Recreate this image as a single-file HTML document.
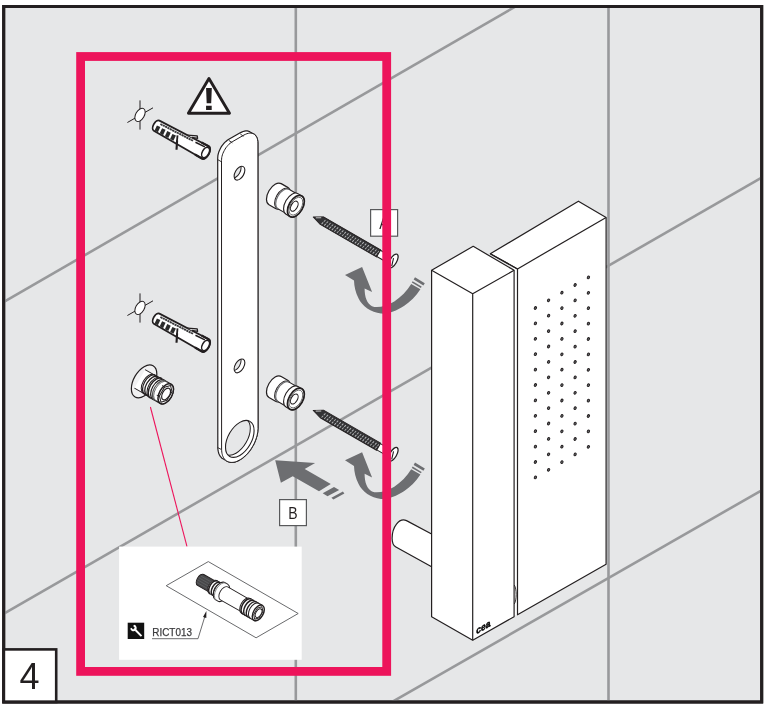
<!DOCTYPE html>
<html lang="en"><head><meta charset="utf-8"><title>Step 4</title>
<style>
html,body{margin:0;padding:0;background:#fff;}
body{width:771px;height:707px;overflow:hidden;font-family:"Liberation Sans",sans-serif;}
svg{display:block;}
svg{will-change:transform;}
</style></head><body>
<svg width="771" height="707" viewBox="0 0 771 707">
<rect x="0" y="0" width="771" height="707" fill="#fff"/>
<rect x="3.7" y="6.5" width="758" height="695.5" fill="#e6e7e8" stroke="#231f20" stroke-width="3"/>
<clipPath id="fr"><rect x="5.2" y="8" width="755" height="692.5"/></clipPath>
<g clip-path="url(#fr)" stroke="#98999b" stroke-width="2.6" fill="none">
<line x1="-10" y1="309.9" x2="800" y2="-157.8"/>
<line x1="-10" y1="621.6" x2="800" y2="155.5"/>
<line x1="-10" y1="932.1" x2="800" y2="468.4"/>
<line x1="295.8" y1="0" x2="295.8" y2="707"/>
<line x1="608.5" y1="0" x2="608.5" y2="707"/>
</g>
<path d="M217.7,158.2 L217.8,156.9 L217.9,155.5 L218.2,154.1 L218.6,152.6 L219.1,151.2 L219.8,149.7 L220.5,148.3 L221.2,146.9 L222.1,145.6 L223.1,144.4 L224.1,143.2 L225.1,142.1 L226.2,141.2 L227.3,140.3 L228.4,139.6 L240.2,132.8 L241.7,132.1 L243.1,131.5 L244.5,131.1 L245.8,130.9 L247.1,130.9 L248.4,131.2 L249.5,131.6 L250.5,132.2 L254.3,134.3 L255.2,135.1 L256.0,136.1 L256.7,137.2 L257.2,138.4 L257.6,139.8 L257.8,141.4 L257.9,143.0 L258.0,428.4 L257.9,429.8 L257.8,431.3 L257.6,432.8 L257.3,434.3 L257.0,435.9 L256.5,437.4 L256.0,439.0 L255.4,440.6 L254.8,442.1 L254.1,443.7 L253.3,445.2 L252.4,446.7 L251.5,448.2 L250.6,449.6 L249.6,450.9 L248.5,452.3 L247.5,453.5 L246.3,454.7 L245.2,455.9 L244.0,456.9 L242.8,457.9 L241.6,458.7 L240.4,459.5 L239.2,460.2 L238.0,460.9 L236.8,461.4 L235.6,461.8 L234.4,462.1 L233.3,462.3 L232.1,462.4 L231.1,462.4 L230.0,462.2 L229.0,462.0 L228.1,461.7 L227.2,461.3 L223.4,459.1 L222.5,458.6 L221.7,458.0 L221.0,457.2 L220.3,456.4 L219.8,455.5 L219.3,454.6 L218.8,453.5 L218.5,452.4 L218.2,451.2 L218.0,449.9 L217.8,448.6 L217.8,447.2Z" fill="#fff" stroke="#231f20" stroke-width="1.2" stroke-linejoin="round"/>
<path d="M221.6,449.4 L221.7,450.8 L221.8,452.1 L222.0,453.4 L222.3,454.6 L222.6,455.7 L223.1,456.8 L223.6,457.7 L224.2,458.6 L224.8,459.4 L225.5,460.2 L226.3,460.8 L227.2,461.3 L228.1,461.7 L229.0,462.0 L230.0,462.3 L231.1,462.4 L232.1,462.4 L233.3,462.3 L234.4,462.1 L235.6,461.8 L236.8,461.4 L238.0,460.8 L239.2,460.2 L240.4,459.5 L241.6,458.7 L242.8,457.9 L244.0,456.9 L245.2,455.8 L246.3,454.7 L247.5,453.5 L248.5,452.3 L249.6,451.0 L250.6,449.6 L251.5,448.2 L252.4,446.7 L253.3,445.2 L254.1,443.7 L254.8,442.1 L255.4,440.6 L256.0,439.0 L256.5,437.4 L257.0,435.9 L257.3,434.3 L257.6,432.8 L257.8,431.3 L257.9,429.8 L258.0,428.4 L257.9,143.0 L257.8,141.4 L257.6,139.8 L257.2,138.4 L256.7,137.2 L256.0,136.1 L255.2,135.1 L254.3,134.3 L253.3,133.8 L252.2,133.4 L250.9,133.1 L249.7,133.1 L248.3,133.3 L246.9,133.7 L245.5,134.3 L244.0,135.0 L232.2,141.8 L231.1,142.5 L230.0,143.4 L228.9,144.3 L227.9,145.4 L226.9,146.6 L225.9,147.8 L225.1,149.1 L224.3,150.5 L223.6,151.9 L222.9,153.4 L222.4,154.8 L222.0,156.3 L221.7,157.7 L221.6,159.1 L221.5,160.4Z" fill="#fff" stroke="#231f20" stroke-width="1" stroke-linejoin="round"/>
<path d="M217.7,159.6 L221.5,161.8 M228.8,140.4 L232.4,142.8 M240.2,133.8 L243.4,136.4" fill="none" stroke="#231f20" stroke-width="0.9"/>
<path d="M217.7,447.6 L221.6,449.6" fill="none" stroke="#231f20" stroke-width="0.9"/>
<clipPath id="h1"><ellipse cx="239.5" cy="173.2" rx="4.38" ry="7.59" transform="rotate(30 239.5 173.2)"/></clipPath>
<ellipse cx="239.5" cy="173.2" rx="4.38" ry="7.59" transform="rotate(30 239.5 173.2)" fill="#fff" stroke="none"/>
<g clip-path="url(#h1)"><ellipse cx="235.7" cy="171.0" rx="4.38" ry="7.59" transform="rotate(30 235.7 171.0)" fill="#e6e7e8" stroke="#231f20" stroke-width="1"/></g>
<ellipse cx="239.5" cy="173.2" rx="4.38" ry="7.59" transform="rotate(30 239.5 173.2)" fill="none" stroke="#231f20" stroke-width="1.1"/>
<clipPath id="h2"><ellipse cx="239.5" cy="365.9" rx="4.38" ry="7.59" transform="rotate(30 239.5 365.9)"/></clipPath>
<ellipse cx="239.5" cy="365.9" rx="4.38" ry="7.59" transform="rotate(30 239.5 365.9)" fill="#fff" stroke="none"/>
<g clip-path="url(#h2)"><ellipse cx="235.7" cy="363.7" rx="4.38" ry="7.59" transform="rotate(30 235.7 363.7)" fill="#e6e7e8" stroke="#231f20" stroke-width="1"/></g>
<ellipse cx="239.5" cy="365.9" rx="4.38" ry="7.59" transform="rotate(30 239.5 365.9)" fill="none" stroke="#231f20" stroke-width="1.1"/>
<clipPath id="h3"><ellipse cx="239.8" cy="438.9" rx="11.67" ry="20.21" transform="rotate(30 239.8 438.9)"/></clipPath>
<ellipse cx="239.8" cy="438.9" rx="11.67" ry="20.21" transform="rotate(30 239.8 438.9)" fill="#fff" stroke="none"/>
<g clip-path="url(#h3)"><ellipse cx="236.0" cy="436.7" rx="11.67" ry="20.21" transform="rotate(30 236.0 436.7)" fill="#e6e7e8" stroke="#231f20" stroke-width="1"/></g>
<ellipse cx="239.8" cy="438.9" rx="11.67" ry="20.21" transform="rotate(30 239.8 438.9)" fill="none" stroke="#231f20" stroke-width="1.1"/>
<g stroke="#231f20" stroke-width="1" fill="none"><line x1="140" y1="100.4" x2="140" y2="129.6"/><line x1="127.4" y1="122.5" x2="153" y2="107.80000000000001"/><ellipse cx="140" cy="114.9" rx="4.3" ry="7.2" fill="#fff" transform="rotate(30 140 114.9)"/></g>
<g transform="translate(155.3,125.0) rotate(28.7)" stroke="#231f20" stroke-linejoin="round">
<path d="M1.5,-5.8 L57,-7 A3.7,7 0 0 1 57,7 L1.5,5.8 A3.2,5.8 0 0 1 1.5,-5.8Z" fill="#fff" stroke-width="1.8"/>
<path d="M49,-6.8 L57,-7 A3.7,7 0 0 1 57,7 L49,6.8" fill="none" stroke-width="2.2"/>
<ellipse cx="57.3" cy="0" rx="3.2" ry="5.6" fill="#fff" stroke-width="1.5"/>
<path d="M4,-3.3 L41,-4.3" fill="none" stroke="#3a3a3c" stroke-width="1.9" stroke-dasharray="2.2 0.45"/>
<path d="M43.5,-4.2 L54,-4.6" fill="none" stroke-width="1.6"/>
<path d="M1.6,-0.4 L5.4,-0.7 L5.8,5.2 L2.0,5.2Z" fill="#2b2b2b" stroke="none"/>
<path d="M7.5,-0.4 L11.3,-0.7 L11.7,5.2 L7.9,5.2Z" fill="#2b2b2b" stroke="none"/>
<path d="M13.4,-0.4 L17.2,-0.7 L17.6,5.2 L13.8,5.2Z" fill="#2b2b2b" stroke="none"/>
<path d="M19.3,-0.4 L23.1,-0.7 L23.5,5.2 L19.7,5.2Z" fill="#2b2b2b" stroke="none"/>
<path d="M24.5,-1.5 L27.5,5.5" fill="none" stroke-width="1.8"/>
<path d="M33,-6.6 L42,-10.6 L43.5,-8.6 L38,-6.6" fill="#e6e7e8" stroke-width="1.3"/>
<path d="M26.5,3 L30.5,11.5" fill="none" stroke-width="2.1"/>
</g>
<g stroke="#231f20" stroke-width="1" fill="none"><line x1="140" y1="293.4" x2="140" y2="322.59999999999997"/><line x1="127.4" y1="315.5" x2="153" y2="300.79999999999995"/><ellipse cx="140" cy="307.9" rx="4.3" ry="7.2" fill="#fff" transform="rotate(30 140 307.9)"/></g>
<g transform="translate(155.3,318.0) rotate(28.7)" stroke="#231f20" stroke-linejoin="round">
<path d="M1.5,-5.8 L57,-7 A3.7,7 0 0 1 57,7 L1.5,5.8 A3.2,5.8 0 0 1 1.5,-5.8Z" fill="#fff" stroke-width="1.8"/>
<path d="M49,-6.8 L57,-7 A3.7,7 0 0 1 57,7 L49,6.8" fill="none" stroke-width="2.2"/>
<ellipse cx="57.3" cy="0" rx="3.2" ry="5.6" fill="#fff" stroke-width="1.5"/>
<path d="M4,-3.3 L41,-4.3" fill="none" stroke="#3a3a3c" stroke-width="1.9" stroke-dasharray="2.2 0.45"/>
<path d="M43.5,-4.2 L54,-4.6" fill="none" stroke-width="1.6"/>
<path d="M1.6,-0.4 L5.4,-0.7 L5.8,5.2 L2.0,5.2Z" fill="#2b2b2b" stroke="none"/>
<path d="M7.5,-0.4 L11.3,-0.7 L11.7,5.2 L7.9,5.2Z" fill="#2b2b2b" stroke="none"/>
<path d="M13.4,-0.4 L17.2,-0.7 L17.6,5.2 L13.8,5.2Z" fill="#2b2b2b" stroke="none"/>
<path d="M19.3,-0.4 L23.1,-0.7 L23.5,5.2 L19.7,5.2Z" fill="#2b2b2b" stroke="none"/>
<path d="M24.5,-1.5 L27.5,5.5" fill="none" stroke-width="1.8"/>
<path d="M33,-6.6 L42,-10.6 L43.5,-8.6 L38,-6.6" fill="#e6e7e8" stroke-width="1.3"/>
<path d="M26.5,3 L30.5,11.5" fill="none" stroke-width="2.1"/>
</g>
<path d="M208.95,78.5 L229.5,113.3 L188.4,113.3Z" fill="#fff" stroke="#231f20" stroke-width="2.9" stroke-linejoin="round"/>
<text x="0" y="0" transform="translate(208.95,110.3) scale(1.3,1)" font-family="'Liberation Sans',sans-serif" font-weight="bold" font-size="31" text-anchor="middle" fill="#231f20">!</text>
<g transform="translate(275.1,194.2) rotate(30)" stroke="#231f20" stroke-width="1.1" fill="#fff" stroke-linejoin="round">
<path d="M0,-12.2 L7.5,-12.2 A7.04,12.2 0 0 1 7.5,12.2 L0,12.2 A7.04,12.2 0 0 1 0,-12.2Z" fill="#fff" stroke-width="1.2"/>
<path d="M8.6,-11.2 L19,-11.2 A6.46,11.2 0 0 1 19,11.2 L8.6,11.2 A6.46,11.2 0 0 1 8.6,-11.2Z" fill="#fff" stroke-width="1.0"/>
<path d="M9.8,-11.2 A6.46,11.2 0 0 0 9.8,11.2" fill="none" stroke="#6d6e71" stroke-width="1.2"/>
<path d="M19.5,-11.9 L24,-11.9 A6.87,11.9 0 0 1 24,11.9 L19.5,11.9 A6.87,11.9 0 0 1 19.5,-11.9Z" fill="#fff" stroke-width="1.1"/>
<ellipse cx="24" cy="0" rx="6.9" ry="11.9" stroke-width="1.7"/>
<ellipse cx="24" cy="0" rx="5.6" ry="9.8" stroke-width="0.8" stroke="#555"/>
<ellipse cx="22.6" cy="0.8" rx="3.1" ry="5.5" stroke-width="1.1"/>
</g>
<g transform="translate(275.1,387.0) rotate(30)" stroke="#231f20" stroke-width="1.1" fill="#fff" stroke-linejoin="round">
<path d="M0,-12.2 L7.5,-12.2 A7.04,12.2 0 0 1 7.5,12.2 L0,12.2 A7.04,12.2 0 0 1 0,-12.2Z" fill="#fff" stroke-width="1.2"/>
<path d="M8.6,-11.2 L19,-11.2 A6.46,11.2 0 0 1 19,11.2 L8.6,11.2 A6.46,11.2 0 0 1 8.6,-11.2Z" fill="#fff" stroke-width="1.0"/>
<path d="M9.8,-11.2 A6.46,11.2 0 0 0 9.8,11.2" fill="none" stroke="#6d6e71" stroke-width="1.2"/>
<path d="M19.5,-11.9 L24,-11.9 A6.87,11.9 0 0 1 24,11.9 L19.5,11.9 A6.87,11.9 0 0 1 19.5,-11.9Z" fill="#fff" stroke-width="1.1"/>
<ellipse cx="24" cy="0" rx="6.9" ry="11.9" stroke-width="1.7"/>
<ellipse cx="24" cy="0" rx="5.6" ry="9.8" stroke-width="0.8" stroke="#555"/>
<ellipse cx="22.6" cy="0.8" rx="3.1" ry="5.5" stroke-width="1.1"/>
</g>
<g transform="translate(322.3,220.9) rotate(30)" stroke-linejoin="round">
<path d="M-9.8,1.2 L-1,-4.1 L65,-4.1 L65,4.1 L0,4.1Z" fill="#333335" stroke="#231f20" stroke-width="0.9"/>
<path d="M1.0,3.2 L2.5,-3.2 M4.0,3.2 L5.5,-3.2 M6.9,3.2 L8.4,-3.2 M9.9,3.2 L11.4,-3.2 M12.8,3.2 L14.3,-3.2 M15.8,3.2 L17.2,-3.2 M18.7,3.2 L20.2,-3.2 M21.7,3.2 L23.2,-3.2 M24.6,3.2 L26.1,-3.2 M27.6,3.2 L29.1,-3.2 M30.5,3.2 L32.0,-3.2 M33.5,3.2 L35.0,-3.2 M36.4,3.2 L37.9,-3.2 M39.4,3.2 L40.9,-3.2 M42.3,3.2 L43.8,-3.2 M45.2,3.2 L46.8,-3.2 M48.2,3.2 L49.7,-3.2 M51.2,3.2 L52.7,-3.2 M54.1,3.2 L55.6,-3.2 M57.1,3.2 L58.6,-3.2 M60.0,3.2 L61.5,-3.2 M63.0,3.2 L64.5,-3.2" stroke="#b5b6b8" stroke-width="0.95" fill="none" stroke-dasharray="2.4 0.9"/>
<path d="M-7.2,0.6 L-2.5,-2.2" stroke="#ddd" stroke-width="0.8" fill="none"/>
<path d="M65,-3.6 L75,-3.6 L75,3.6 L65,3.6Z" fill="#fff" stroke="#231f20" stroke-width="1"/>
<ellipse cx="81.5" cy="-0.7" rx="3.4" ry="7.8" fill="#fff" stroke="#231f20" stroke-width="1.3"/>
<path d="M80.3,-3.4 L82.7,4.4" stroke="#231f20" stroke-width="1.1" fill="none"/>
</g>
<g transform="translate(322.3,414.20000000000005) rotate(30)" stroke-linejoin="round">
<path d="M-9.8,1.2 L-1,-4.1 L65,-4.1 L65,4.1 L0,4.1Z" fill="#333335" stroke="#231f20" stroke-width="0.9"/>
<path d="M1.0,3.2 L2.5,-3.2 M4.0,3.2 L5.5,-3.2 M6.9,3.2 L8.4,-3.2 M9.9,3.2 L11.4,-3.2 M12.8,3.2 L14.3,-3.2 M15.8,3.2 L17.2,-3.2 M18.7,3.2 L20.2,-3.2 M21.7,3.2 L23.2,-3.2 M24.6,3.2 L26.1,-3.2 M27.6,3.2 L29.1,-3.2 M30.5,3.2 L32.0,-3.2 M33.5,3.2 L35.0,-3.2 M36.4,3.2 L37.9,-3.2 M39.4,3.2 L40.9,-3.2 M42.3,3.2 L43.8,-3.2 M45.2,3.2 L46.8,-3.2 M48.2,3.2 L49.7,-3.2 M51.2,3.2 L52.7,-3.2 M54.1,3.2 L55.6,-3.2 M57.1,3.2 L58.6,-3.2 M60.0,3.2 L61.5,-3.2 M63.0,3.2 L64.5,-3.2" stroke="#b5b6b8" stroke-width="0.95" fill="none" stroke-dasharray="2.4 0.9"/>
<path d="M-7.2,0.6 L-2.5,-2.2" stroke="#ddd" stroke-width="0.8" fill="none"/>
<path d="M65,-3.6 L75,-3.6 L75,3.6 L65,3.6Z" fill="#fff" stroke="#231f20" stroke-width="1"/>
<ellipse cx="81.5" cy="-0.7" rx="3.4" ry="7.8" fill="#fff" stroke="#231f20" stroke-width="1.3"/>
<path d="M80.3,-3.4 L82.7,4.4" stroke="#231f20" stroke-width="1.1" fill="none"/>
</g>
<rect x="370.6" y="209.6" width="27" height="26.6" fill="#fff" stroke="#58595b" stroke-width="1.2"/>
<text x="384" y="229.5" font-family="'Liberation Sans',sans-serif" font-size="16.3" text-anchor="middle" fill="#231f20" transform="translate(384,0) scale(0.86,1) translate(-384,0)">A</text>
<rect x="279.6" y="499.6" width="26.8" height="26" fill="#fff" stroke="#58595b" stroke-width="1.2"/>
<text x="293" y="519.2" font-family="'Liberation Sans',sans-serif" font-size="16.3" text-anchor="middle" fill="#231f20" transform="translate(293,0) scale(0.86,1) translate(-293,0)">B</text>
<g transform="translate(0,0)" fill="#6d6e71">
<path d="M345,275 L362.1,266.9 L372.1,292.1 L364.6,288.4 C364.6,297 367,303.5 372,306.2 C378,308.6 387,305.5 394.3,301.4 C401,297 407,291 411.2,284 L420.4,289.3 C416,296.5 410,302 404.3,305.7 C396,311 388,314.2 381,313.6 C371,312.6 362,306 358.6,298.6 C355.5,292.5 354.2,286.5 354,280.6Z"/>
<path d="M411.8,282.6 L412.6,281.3 L421.6,286.6 L420.9,287.9Z"/>
<path d="M413.6,279.6 L415,277.3 L424.8,283.2 L423.4,285.5Z"/>
</g>
<g transform="translate(0,185.3)" fill="#6d6e71">
<path d="M345,275 L362.1,266.9 L372.1,292.1 L364.6,288.4 C364.6,297 367,303.5 372,306.2 C378,308.6 387,305.5 394.3,301.4 C401,297 407,291 411.2,284 L420.4,289.3 C416,296.5 410,302 404.3,305.7 C396,311 388,314.2 381,313.6 C371,312.6 362,306 358.6,298.6 C355.5,292.5 354.2,286.5 354,280.6Z"/>
<path d="M411.8,282.6 L412.6,281.3 L421.6,286.6 L420.9,287.9Z"/>
<path d="M413.6,279.6 L415,277.3 L424.8,283.2 L423.4,285.5Z"/>
</g>
<g fill="#6d6e71">
<path d="M275.2,460.2 L315.1,463 L304.7,469.1 L330.8,484.1 L319,491.2 L292.7,476.3 L280.9,482.8Z"/>
<path d="M322.7,493.2 L334,486.9 L339.2,489.9 L327.5,496.2Z"/>
<path d="M331.4,497.7 L342.9,491.5 L344.4,493.4 L333.4,499.4Z"/>
</g>
<g stroke="#231f20" stroke-width="1.2" fill="#fff" stroke-linejoin="round">
<path d="M431.6,534 L406.5,520.6 C399,517.5 392.1,527 392.1,538.2 C392.1,543 394,546 395.9,547.1 L431.6,566.8Z"/>
<path d="M513,268 L518.5,268 L518.5,614 L513,616Z" stroke="none"/>
<path d="M490.3,253.8 L578.4,201.2 L606.1,217.4 L606.1,564.3 L517.5,614.8 L517.5,268.9Z"/>
<path d="M606.1,217.4 L517.5,268.9" fill="none"/>
<path d="M517.5,268.9 L490.3,253.8" fill="none"/>
<path d="M431.6,270.3 L473.2,246.3 L514.1,270.3 L514.1,616.7 L472.7,640.2 L431.6,616.7Z"/>
<path d="M431.6,270.3 L472.7,293.8 L514.1,270.3 M472.7,293.8 L472.7,640.2" fill="none"/>
<path d="M514.3,585 C516.8,589 516.8,600 514.3,604" fill="none" stroke-width="0.9"/>
</g>
<ellipse cx="588.4" cy="277.4" rx="1.05" ry="1.4" fill="#6d6e71" stroke="#231f20" stroke-width="1" transform="rotate(30 588.4 277.4)"/>
<ellipse cx="588.4" cy="292.8" rx="1.05" ry="1.4" fill="#6d6e71" stroke="#231f20" stroke-width="1" transform="rotate(30 588.4 292.8)"/>
<ellipse cx="588.4" cy="308.2" rx="1.05" ry="1.4" fill="#6d6e71" stroke="#231f20" stroke-width="1" transform="rotate(30 588.4 308.2)"/>
<ellipse cx="588.4" cy="323.6" rx="1.05" ry="1.4" fill="#6d6e71" stroke="#231f20" stroke-width="1" transform="rotate(30 588.4 323.6)"/>
<ellipse cx="588.4" cy="339.0" rx="1.05" ry="1.4" fill="#6d6e71" stroke="#231f20" stroke-width="1" transform="rotate(30 588.4 339.0)"/>
<ellipse cx="588.4" cy="354.4" rx="1.05" ry="1.4" fill="#6d6e71" stroke="#231f20" stroke-width="1" transform="rotate(30 588.4 354.4)"/>
<ellipse cx="588.4" cy="369.8" rx="1.05" ry="1.4" fill="#6d6e71" stroke="#231f20" stroke-width="1" transform="rotate(30 588.4 369.8)"/>
<ellipse cx="588.4" cy="385.2" rx="1.05" ry="1.4" fill="#6d6e71" stroke="#231f20" stroke-width="1" transform="rotate(30 588.4 385.2)"/>
<ellipse cx="588.4" cy="400.6" rx="1.05" ry="1.4" fill="#6d6e71" stroke="#231f20" stroke-width="1" transform="rotate(30 588.4 400.6)"/>
<ellipse cx="588.4" cy="416.0" rx="1.05" ry="1.4" fill="#6d6e71" stroke="#231f20" stroke-width="1" transform="rotate(30 588.4 416.0)"/>
<ellipse cx="588.4" cy="431.4" rx="1.05" ry="1.4" fill="#6d6e71" stroke="#231f20" stroke-width="1" transform="rotate(30 588.4 431.4)"/>
<ellipse cx="588.4" cy="446.8" rx="1.05" ry="1.4" fill="#6d6e71" stroke="#231f20" stroke-width="1" transform="rotate(30 588.4 446.8)"/>
<ellipse cx="575.1" cy="285.0" rx="1.05" ry="1.4" fill="#6d6e71" stroke="#231f20" stroke-width="1" transform="rotate(30 575.1 285.0)"/>
<ellipse cx="575.1" cy="300.4" rx="1.05" ry="1.4" fill="#6d6e71" stroke="#231f20" stroke-width="1" transform="rotate(30 575.1 300.4)"/>
<ellipse cx="575.1" cy="315.8" rx="1.05" ry="1.4" fill="#6d6e71" stroke="#231f20" stroke-width="1" transform="rotate(30 575.1 315.8)"/>
<ellipse cx="575.1" cy="331.2" rx="1.05" ry="1.4" fill="#6d6e71" stroke="#231f20" stroke-width="1" transform="rotate(30 575.1 331.2)"/>
<ellipse cx="575.1" cy="346.6" rx="1.05" ry="1.4" fill="#6d6e71" stroke="#231f20" stroke-width="1" transform="rotate(30 575.1 346.6)"/>
<ellipse cx="575.1" cy="362.0" rx="1.05" ry="1.4" fill="#6d6e71" stroke="#231f20" stroke-width="1" transform="rotate(30 575.1 362.0)"/>
<ellipse cx="575.1" cy="377.4" rx="1.05" ry="1.4" fill="#6d6e71" stroke="#231f20" stroke-width="1" transform="rotate(30 575.1 377.4)"/>
<ellipse cx="575.1" cy="392.8" rx="1.05" ry="1.4" fill="#6d6e71" stroke="#231f20" stroke-width="1" transform="rotate(30 575.1 392.8)"/>
<ellipse cx="575.1" cy="408.2" rx="1.05" ry="1.4" fill="#6d6e71" stroke="#231f20" stroke-width="1" transform="rotate(30 575.1 408.2)"/>
<ellipse cx="575.1" cy="423.6" rx="1.05" ry="1.4" fill="#6d6e71" stroke="#231f20" stroke-width="1" transform="rotate(30 575.1 423.6)"/>
<ellipse cx="575.1" cy="439.0" rx="1.05" ry="1.4" fill="#6d6e71" stroke="#231f20" stroke-width="1" transform="rotate(30 575.1 439.0)"/>
<ellipse cx="575.1" cy="454.4" rx="1.05" ry="1.4" fill="#6d6e71" stroke="#231f20" stroke-width="1" transform="rotate(30 575.1 454.4)"/>
<ellipse cx="561.9" cy="292.7" rx="1.05" ry="1.4" fill="#6d6e71" stroke="#231f20" stroke-width="1" transform="rotate(30 561.9 292.7)"/>
<ellipse cx="561.9" cy="308.1" rx="1.05" ry="1.4" fill="#6d6e71" stroke="#231f20" stroke-width="1" transform="rotate(30 561.9 308.1)"/>
<ellipse cx="561.9" cy="323.5" rx="1.05" ry="1.4" fill="#6d6e71" stroke="#231f20" stroke-width="1" transform="rotate(30 561.9 323.5)"/>
<ellipse cx="561.9" cy="338.9" rx="1.05" ry="1.4" fill="#6d6e71" stroke="#231f20" stroke-width="1" transform="rotate(30 561.9 338.9)"/>
<ellipse cx="561.9" cy="354.3" rx="1.05" ry="1.4" fill="#6d6e71" stroke="#231f20" stroke-width="1" transform="rotate(30 561.9 354.3)"/>
<ellipse cx="561.9" cy="369.7" rx="1.05" ry="1.4" fill="#6d6e71" stroke="#231f20" stroke-width="1" transform="rotate(30 561.9 369.7)"/>
<ellipse cx="561.9" cy="385.1" rx="1.05" ry="1.4" fill="#6d6e71" stroke="#231f20" stroke-width="1" transform="rotate(30 561.9 385.1)"/>
<ellipse cx="561.9" cy="400.5" rx="1.05" ry="1.4" fill="#6d6e71" stroke="#231f20" stroke-width="1" transform="rotate(30 561.9 400.5)"/>
<ellipse cx="561.9" cy="415.9" rx="1.05" ry="1.4" fill="#6d6e71" stroke="#231f20" stroke-width="1" transform="rotate(30 561.9 415.9)"/>
<ellipse cx="561.9" cy="431.3" rx="1.05" ry="1.4" fill="#6d6e71" stroke="#231f20" stroke-width="1" transform="rotate(30 561.9 431.3)"/>
<ellipse cx="561.9" cy="446.7" rx="1.05" ry="1.4" fill="#6d6e71" stroke="#231f20" stroke-width="1" transform="rotate(30 561.9 446.7)"/>
<ellipse cx="561.9" cy="462.1" rx="1.05" ry="1.4" fill="#6d6e71" stroke="#231f20" stroke-width="1" transform="rotate(30 561.9 462.1)"/>
<ellipse cx="548.6" cy="300.3" rx="1.05" ry="1.4" fill="#6d6e71" stroke="#231f20" stroke-width="1" transform="rotate(30 548.6 300.3)"/>
<ellipse cx="548.6" cy="315.7" rx="1.05" ry="1.4" fill="#6d6e71" stroke="#231f20" stroke-width="1" transform="rotate(30 548.6 315.7)"/>
<ellipse cx="548.6" cy="331.1" rx="1.05" ry="1.4" fill="#6d6e71" stroke="#231f20" stroke-width="1" transform="rotate(30 548.6 331.1)"/>
<ellipse cx="548.6" cy="346.5" rx="1.05" ry="1.4" fill="#6d6e71" stroke="#231f20" stroke-width="1" transform="rotate(30 548.6 346.5)"/>
<ellipse cx="548.6" cy="361.9" rx="1.05" ry="1.4" fill="#6d6e71" stroke="#231f20" stroke-width="1" transform="rotate(30 548.6 361.9)"/>
<ellipse cx="548.6" cy="377.3" rx="1.05" ry="1.4" fill="#6d6e71" stroke="#231f20" stroke-width="1" transform="rotate(30 548.6 377.3)"/>
<ellipse cx="548.6" cy="392.8" rx="1.05" ry="1.4" fill="#6d6e71" stroke="#231f20" stroke-width="1" transform="rotate(30 548.6 392.8)"/>
<ellipse cx="548.6" cy="408.1" rx="1.05" ry="1.4" fill="#6d6e71" stroke="#231f20" stroke-width="1" transform="rotate(30 548.6 408.1)"/>
<ellipse cx="548.6" cy="423.5" rx="1.05" ry="1.4" fill="#6d6e71" stroke="#231f20" stroke-width="1" transform="rotate(30 548.6 423.5)"/>
<ellipse cx="548.6" cy="438.9" rx="1.05" ry="1.4" fill="#6d6e71" stroke="#231f20" stroke-width="1" transform="rotate(30 548.6 438.9)"/>
<ellipse cx="548.6" cy="454.3" rx="1.05" ry="1.4" fill="#6d6e71" stroke="#231f20" stroke-width="1" transform="rotate(30 548.6 454.3)"/>
<ellipse cx="548.6" cy="469.8" rx="1.05" ry="1.4" fill="#6d6e71" stroke="#231f20" stroke-width="1" transform="rotate(30 548.6 469.8)"/>
<ellipse cx="535.4" cy="308.0" rx="1.05" ry="1.4" fill="#6d6e71" stroke="#231f20" stroke-width="1" transform="rotate(30 535.4 308.0)"/>
<ellipse cx="535.4" cy="323.4" rx="1.05" ry="1.4" fill="#6d6e71" stroke="#231f20" stroke-width="1" transform="rotate(30 535.4 323.4)"/>
<ellipse cx="535.4" cy="338.8" rx="1.05" ry="1.4" fill="#6d6e71" stroke="#231f20" stroke-width="1" transform="rotate(30 535.4 338.8)"/>
<ellipse cx="535.4" cy="354.2" rx="1.05" ry="1.4" fill="#6d6e71" stroke="#231f20" stroke-width="1" transform="rotate(30 535.4 354.2)"/>
<ellipse cx="535.4" cy="369.6" rx="1.05" ry="1.4" fill="#6d6e71" stroke="#231f20" stroke-width="1" transform="rotate(30 535.4 369.6)"/>
<ellipse cx="535.4" cy="385.0" rx="1.05" ry="1.4" fill="#6d6e71" stroke="#231f20" stroke-width="1" transform="rotate(30 535.4 385.0)"/>
<ellipse cx="535.4" cy="400.4" rx="1.05" ry="1.4" fill="#6d6e71" stroke="#231f20" stroke-width="1" transform="rotate(30 535.4 400.4)"/>
<ellipse cx="535.4" cy="415.8" rx="1.05" ry="1.4" fill="#6d6e71" stroke="#231f20" stroke-width="1" transform="rotate(30 535.4 415.8)"/>
<ellipse cx="535.4" cy="431.2" rx="1.05" ry="1.4" fill="#6d6e71" stroke="#231f20" stroke-width="1" transform="rotate(30 535.4 431.2)"/>
<ellipse cx="535.4" cy="446.6" rx="1.05" ry="1.4" fill="#6d6e71" stroke="#231f20" stroke-width="1" transform="rotate(30 535.4 446.6)"/>
<ellipse cx="535.4" cy="462.0" rx="1.05" ry="1.4" fill="#6d6e71" stroke="#231f20" stroke-width="1" transform="rotate(30 535.4 462.0)"/>
<ellipse cx="535.4" cy="477.4" rx="1.05" ry="1.4" fill="#6d6e71" stroke="#231f20" stroke-width="1" transform="rotate(30 535.4 477.4)"/>
<text transform="matrix(0.866,-0.5,0,1,476.3,634.2)" x="0" y="0" font-family="'Liberation Sans',sans-serif" font-weight="bold" font-size="9.6" fill="#000" stroke="#000" stroke-width="0.5" textLength="16.2" lengthAdjust="spacingAndGlyphs">cea</text>
<g transform="translate(144.1,381.35) rotate(30)" stroke="#231f20" stroke-width="1.1" fill="#fff" stroke-linejoin="round">
<ellipse cx="0" cy="0" rx="10.4" ry="18" fill="#f1f1f2" stroke-width="1.2"/>
<path d="M-5,-10.6 L9,-10.6 L9,10.6 L-5,10.6" fill="#fff" stroke-width="0.9"/>
<path d="M5.5,-10.8 L12,-10.8 A6.23,10.8 0 0 1 12,10.8 L5.5,10.8 A6.23,10.8 0 0 1 5.5,-10.8Z" fill="#fff" stroke-width="1.0"/>
<path d="M7,-10.8 A6.23,10.8 0 0 0 7,10.8" fill="none" stroke="#231f20" stroke-width="1.3"/>
<path d="M9.6,-10.8 A6.23,10.8 0 0 0 9.6,10.8" fill="none" stroke="#231f20" stroke-width="1.3"/>
<path d="M12.5,-11.3 L16,-11.3 A6.52,11.3 0 0 1 16,11.3 L12.5,11.3 A6.52,11.3 0 0 1 12.5,-11.3Z" fill="#fff" stroke-width="1.0"/>
<path d="M14,-11.3 A6.52,11.3 0 0 0 14,11.3" fill="none" stroke="#231f20" stroke-width="1.4"/>
<path d="M16.5,-11 L25,-11 A6.35,11 0 0 1 25,11 L16.5,11 A6.35,11 0 0 1 16.5,-11Z" fill="#fff" stroke-width="1.2"/>
<path d="M18.5,-11 A6.35,11 0 0 0 18.5,11" fill="none" stroke="#555" stroke-width="1.2"/>
<path d="M20,-11 A6.35,11 0 0 0 20,11" fill="none" stroke="#555" stroke-width="0.8"/>
<ellipse cx="25" cy="0" rx="6.35" ry="11" stroke-width="1.5"/>
<path d="M25,-9.6 L29.3,-5 L29.3,5 L25,9.6 L20.6,5 L20.6,-5Z" stroke-width="1" fill="#fff"/>
<path d="M20.6,-5 L17.8,-5.6 M20.6,5 L17.8,5.6" stroke-width="0.9" fill="none"/>
<ellipse cx="25.4" cy="0" rx="3.6" ry="6.4" stroke-width="1.2"/>
</g>
<line x1="150.4" y1="407" x2="187" y2="546.6" stroke="#ed145b" stroke-width="1.1"/>
<rect x="80.6" y="56.5" width="306.1" height="614.9" fill="none" stroke="#ed145b" stroke-width="8.8"/>
<rect x="119.1" y="546.6" width="182.6" height="113.2" fill="#fff"/>
<path d="M166.2,585.7 L208.3,561.6 L298.2,613.5 L256.1,637.8Z" fill="none" stroke="#58595b" stroke-width="0.9"/>
<g transform="translate(200.65,579.95) rotate(29.8)" stroke="#231f20" stroke-width="1" fill="#fff" stroke-linejoin="round">
<path d="M0,-6.3 L14,-6.3 A3.64,6.3 0 0 1 14,6.3 L0,6.3 A3.64,6.3 0 0 1 0,-6.3Z" fill="#48484a" stroke-width="1"/>
<path d="M-2,-3.5 L12,-3.5 M-3,-1 L11,-1 M-3,1.5 L11,1.5 M-2,4 L12,4" stroke="#6d6e71" stroke-width="0.5" fill="none"/>
<path d="M14,-7.4 L21.5,-7.4 A4.27,7.4 0 0 1 21.5,7.4 L14,7.4 A4.27,7.4 0 0 1 14,-7.4Z" fill="#fff" stroke-width="0.9"/>
<path d="M15.2,-7.4 A4.27,7.4 0 0 0 15.2,7.4" fill="none" stroke="#231f20" stroke-width="1.5"/>
<path d="M18.2,-7.4 A4.27,7.4 0 0 0 18.2,7.4" fill="none" stroke="#231f20" stroke-width="1.5"/>
<path d="M20.6,-7.4 A4.27,7.4 0 0 0 20.6,7.4" fill="none" stroke="#231f20" stroke-width="0.9"/>
<path d="M22.5,-9.8 L25.5,-9.8 A5.65,9.8 0 0 1 25.5,9.8 L22.5,9.8 A5.65,9.8 0 0 1 22.5,-9.8Z" fill="#fff" stroke-width="1.1"/>
<path d="M23.8,-9.8 A5.65,9.8 0 0 0 23.8,9.8" fill="none" stroke="#777" stroke-width="0.8"/>
<path d="M27,-7.4 L52,-7.4 A4.27,7.4 0 0 1 52,7.4 L27,7.4 A4.27,7.4 0 0 1 27,-7.4Z" fill="#fff" stroke-width="0.9"/>
<path d="M52,-8.6 L66,-8.6 A4.96,8.6 0 0 1 66,8.6 L52,8.6 A4.96,8.6 0 0 1 52,-8.6Z" fill="#fff" stroke-width="1"/>
<path d="M53.5,-8.6 A4.96,8.6 0 0 0 53.5,8.6" fill="none" stroke="#231f20" stroke-width="1.5"/>
<path d="M56.5,-8.6 A4.96,8.6 0 0 0 56.5,8.6" fill="none" stroke="#231f20" stroke-width="1.5"/>
<path d="M59.5,-8.6 A4.96,8.6 0 0 0 59.5,8.6" fill="none" stroke="#231f20" stroke-width="1.4"/>
<path d="M62,-8.6 A4.96,8.6 0 0 0 62,8.6" fill="none" stroke="#231f20" stroke-width="1"/>
<ellipse cx="66.4" cy="0" rx="4.9" ry="8.6" stroke-width="1.4"/>
<path d="M66.4,-7.2 L69.7,-3.7 L69.7,3.7 L66.4,7.2 L63.2,3.7 L63.2,-3.7Z" stroke-width="0.9"/>
<ellipse cx="66.8" cy="0" rx="2.7" ry="4.8" stroke-width="1"/>
</g>
<rect x="127.7" y="622.7" width="16.5" height="16.3" fill="#111"/>
<g transform="translate(136.6,631.2) rotate(-45) scale(1.1)" fill="#fff"><path d="M-0.9,-1.5 L0.9,-1.5 L0.9,6.3 L-0.9,6.3Z"/><path d="M-2.6,-5.6 A3,3 0 1 0 2.6,-5.6 L1.1,-5.6 L1.1,-3.4 L-1.1,-3.4 L-1.1,-5.6Z"/></g>
<text x="152.3" y="636.2" font-family="'Liberation Sans',sans-serif" font-size="11.4" fill="#3a3a3c" stroke="#3a3a3c" stroke-width="0.25" textLength="39.6" lengthAdjust="spacingAndGlyphs">RICT013</text>
<path d="M152,638.7 L198,638.7 L205,616" fill="none" stroke="#48484a" stroke-width="0.8"/>
<path d="M206.4,611 L206.3,618 L203,617Z" fill="#231f20"/>
<rect x="3.7" y="649.4" width="52.5" height="52.6" fill="#fff" stroke="#231f20" stroke-width="2.6"/>
<text x="29.5" y="689" font-family="'Liberation Sans',sans-serif" font-size="36" text-anchor="middle" fill="#231f20">4</text>
<rect x="3.7" y="6.5" width="758" height="695.5" fill="none" stroke="#231f20" stroke-width="3"/>
</svg>
</body></html>
